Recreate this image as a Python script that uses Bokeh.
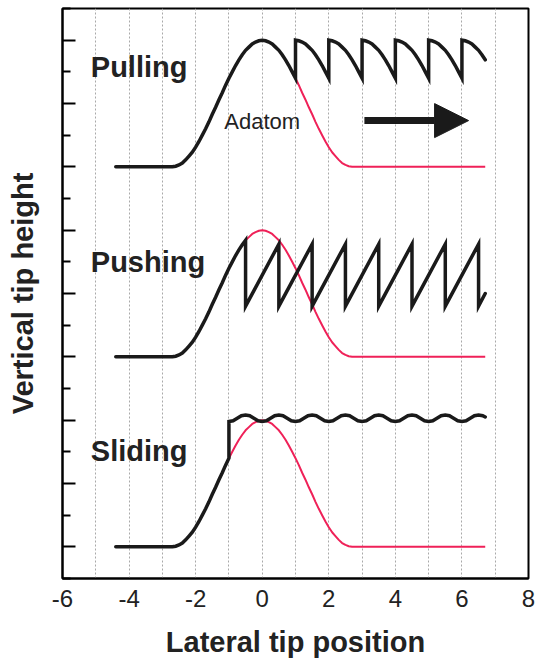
from bokeh.plotting import figure
from bokeh.models import FixedTicker, Arrow, NormalHead
from bokeh.core.properties import value
from bokeh.embed import file_html
from bokeh.resources import INLINE

# ---- data -------------------------------------------------------------
# adatom bump profile: height above the baseline vs. distance from the site
prof_d = [0.0, 0.1, 0.2, 0.3, 0.4, 0.5, 0.6, 0.7, 0.8, 0.9, 1.0, 1.1, 1.2, 1.3,
          1.4, 1.5, 1.6, 1.7, 1.8, 1.9, 2.0, 2.1, 2.2, 2.3, 2.4, 2.5, 2.6, 2.7]
prof_h = [2.00, 1.99, 1.97, 1.94, 1.89, 1.84, 1.77, 1.69, 1.60, 1.50, 1.40, 1.29,
          1.17, 1.06, 0.94, 0.83, 0.71, 0.60, 0.50, 0.40, 0.31, 0.23, 0.17, 0.11,
          0.06, 0.03, 0.01, 0.00]

x_first, x_last = -4.4, 6.7

modes = ["Pulling", "Pushing", "Sliding"]
baselines = [6, 3, 0]
# tip position where the tip path leaves the adatom contour
split_x = [1.0, -0.5, -1.0]

# pulling: the adatom hops one site each time the tip reaches it
pull_hops = [1, 2, 3, 4, 5, 6]

# pushing: saw-tooth peaks and bottoms
push_peaks = [-0.5, 0.5, 1.5, 2.5, 3.5, 4.5, 5.5, 6.5]
push_top, push_bottom, push_end = 1.78, 0.80, 1.00

# sliding: corrugation over one lattice period
wave_phase = [0.0, 0.125, 0.25, 0.375, 0.5, 0.625, 0.75, 0.875]
wave_h = [1.98, 1.99, 2.03, 2.07, 2.08, 2.07, 2.03, 1.99]
wave_end = 2.05

x_ticks = [-6, -4, -2, 0, 2, 4, 6, 8]
grid_ticks = [-5, -4, -3, -2, -1, 0, 1, 2, 3, 4, 5, 6, 7]
y_major = [0, 1, 2, 3, 4, 5, 6, 7, 8]
y_minor = [-0.5, 0.5, 1.5, 2.5, 3.5, 4.5, 5.5, 6.5, 7.5, 8.5]


def height_at(d):
    return prof_h[prof_d.index(round(abs(d), 1))]


def adatom_curve(base):
    xs = [x_first] + [-d for d in reversed(prof_d)] + prof_d[1:] + [x_last]
    ys = [0.0] + list(reversed(prof_h)) + prof_h[1:] + [0.0]
    return xs, [y + base for y in ys]


def approach(base, stop):
    # rising flank of the bump, from the far left up to x = stop
    xs, ys = [x_first], [base]
    for d, h in zip(reversed(prof_d), reversed(prof_h)):
        if -d <= stop + 1e-9:
            xs.append(-d)
            ys.append(base + h)
    return xs, ys


def pulling_tip(base):
    xs, ys = approach(base, 0.0)
    start = 0.0
    for hop in pull_hops + [None]:
        stop = hop if hop is not None else x_last
        for d, h in zip(prof_d[1:], prof_h[1:]):
            x = start + d
            if x <= stop + 1e-9:
                xs.append(x)
                ys.append(base + h)
        if hop is not None:
            xs.append(hop)
            ys.append(base + prof_h[0])
            start = hop
    return xs, ys


def pushing_tip(base):
    xs, ys = approach(base, push_peaks[0])
    for i, pk in enumerate(push_peaks):
        if i > 0:
            xs.append(pk)
            ys.append(base + push_top)
        xs.append(pk)
        ys.append(base + push_bottom)
    xs.append(x_last)
    ys.append(base + push_end)
    return xs, ys


def sliding_tip(base, jump):
    xs, ys = approach(base, jump)
    n = jump
    while n < x_last:
        for ph, h in zip(wave_phase, wave_h):
            if n + ph < x_last:
                xs.append(n + ph)
                ys.append(base + h)
        n += 1
    xs.append(x_last)
    ys.append(base + wave_end)
    return xs, ys


# ---- figure -----------------------------------------------------------
FONT = "Liberation Sans"
RED = "#ef2158"
INK = "#1a1a1a"
TEXT = "#222222"

p = figure(width=535, height=660, x_range=(-6, 8), y_range=(-0.5, 8.5),
           output_backend="svg", toolbar_location=None,
           min_border_left=62, min_border_right=7, min_border_top=8,
           min_border_bottom=82)
p.background_fill_color = "white"
p.border_fill_color = "white"
p.outline_line_color = "black"
p.outline_line_width = 2

p.ygrid.visible = False
p.xgrid.ticker = FixedTicker(ticks=grid_ticks)
p.xgrid.grid_line_color = "#a9a9a9"
p.xgrid.grid_line_dash = "2 2"
p.xgrid.grid_line_width = 1

xa = p.xaxis[0]
xa.ticker = FixedTicker(ticks=x_ticks)
xa.major_label_overrides = {t: str(t) for t in x_ticks}
xa.major_tick_in = 0
xa.major_tick_out = 0
xa.minor_tick_in = 0
xa.minor_tick_out = 0
xa.axis_line_width = 2
xa.major_label_standoff = 11
xa.major_label_text_font = FONT
xa.major_label_text_font_size = "24px"
xa.major_label_text_color = TEXT
xa.axis_label = "Lateral tip position"
xa.axis_label_text_font = FONT
xa.axis_label_text_font_size = "29px"
xa.axis_label_text_font_style = "bold"
xa.axis_label_text_color = TEXT
xa.axis_label_standoff = 16

ya = p.yaxis[0]
ya.ticker = FixedTicker(ticks=y_major, minor_ticks=y_minor)
ya.major_label_overrides = {t: "" for t in y_major}
ya.major_tick_in = 13
ya.major_tick_out = 0
ya.minor_tick_in = 8
ya.minor_tick_out = 0
ya.major_tick_line_width = 2
ya.minor_tick_line_width = 2
ya.axis_line_width = 2
ya.major_label_standoff = 0
ya.axis_label = "Vertical tip height"
ya.axis_label_text_font = FONT
ya.axis_label_text_font_size = "29px"
ya.axis_label_text_font_style = "bold"
ya.axis_label_text_color = TEXT
ya.axis_label_standoff = 24

# adatom trajectories (red), drawn from where the tip leaves them
for base, sx in zip(baselines, split_x):
    xs, ys = adatom_curve(base)
    rx = [x for x in xs if x >= sx - 1e-9]
    ry = ys[len(xs) - len(rx):]
    rx = [sx] + rx
    ry = [base + height_at(sx)] + ry
    p.line(rx, ry, line_color=RED, line_width=2)

# tip trajectories (black)
tip_paths = [pulling_tip(baselines[0]),
             pushing_tip(baselines[1]),
             sliding_tip(baselines[2], split_x[2])]
for xs, ys in tip_paths:
    p.line(xs, ys, line_color=INK, line_width=3.5,
           line_join="miter", line_cap="round")

# mode labels
p.text(x=[-5.15, -5.15, -5.15], y=[7.58, 4.49, 1.52], text=modes,
       text_font=value(FONT), text_font_size="29px", text_font_style="bold",
       text_color=TEXT, text_baseline="alphabetic", text_align="left")
p.text(x=[-1.14], y=[6.72], text=["Adatom"], text_font=value(FONT),
       text_font_size="22px", text_color=TEXT,
       text_baseline="alphabetic", text_align="left")

# direction of tip motion
p.add_layout(Arrow(end=NormalHead(size=34, fill_color=INK, line_color=INK),
                   x_start=3.07, y_start=6.73, x_end=6.2, y_end=6.73,
                   line_color=INK, line_width=7))

open("out.html", "w").write(file_html(p, INLINE))
